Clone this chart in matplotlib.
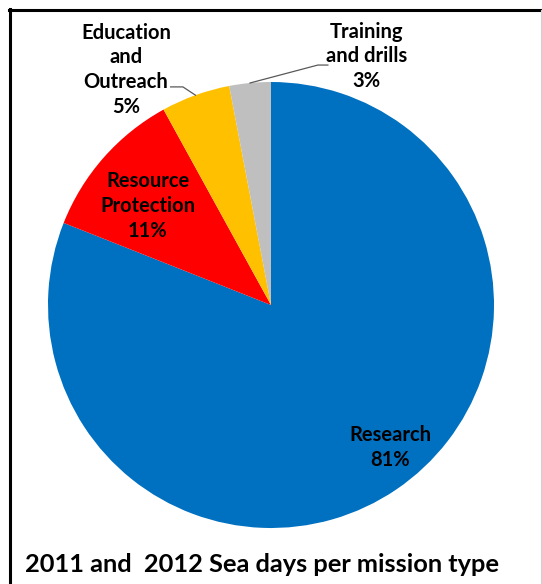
import numpy as np
import matplotlib
matplotlib.use("Agg")
import matplotlib.pyplot as plt
from matplotlib.lines import Line2D

categories = ["Research", "Resource\nProtection", "Education\nand\nOutreach", "Training\nand drills"]
values = [81, 11, 5, 3]
colors = ["#0070C0", "#FF0000", "#FFC000", "#BFBFBF"]
title = "2011 and  2012 Sea days per mission type"

W, H = 542, 584
fig = plt.figure(figsize=(W / 100, H / 100), dpi=100)
fig.patch.set_facecolor("white")

cx, cy, r = 271, 305, 223
ax = fig.add_axes([(cx - r) / W, (H - cy - r) / H, 2 * r / W, 2 * r / H])
ax.axis("off")

wedges, _ = ax.pie(values, colors=colors, startangle=90, counterclock=False,
                   radius=1, center=(0, 0), frame=False,
                   wedgeprops=dict(linewidth=0))
ax.set_xlim(-1, 1)
ax.set_ylim(-1, 1)
ax.set_aspect("auto")

font = dict(family=["Lato", "DejaVu Sans"], fontweight="bold", fontsize=14.5)
total = sum(values)
pct = [f"{v / total * 100:.0f}%" for v in values]

# label positions (axes data coords)
pos = [(0.534, -0.64), (-0.552, 0.445), (-0.65, 1.055), (0.43, 1.115)]
for (x, y), c, p in zip(pos, categories, pct):
    ax.text(x, y, f"{c}\n{p}", ha="center", va="center", linespacing=1.3,
            clip_on=False, **font)

# leader lines for small slices
for i, (elbow, end) in zip([2, 3], [((-0.395, 0.978), (-0.45, 0.978)),
                                    ((0.21, 1.076), (0.255, 1.076))]):
    w = wedges[i]
    mid = np.deg2rad((w.theta1 + w.theta2) / 2)
    px, py = np.cos(mid), np.sin(mid)
    ax.add_line(Line2D([px, elbow[0], end[0]], [py, elbow[1], end[1]],
                       color="#595959", lw=0.9, clip_on=False))

fig.text(262 / W, 1 - 564 / H, title, ha="center", va="center",
         family=["Lato", "DejaVu Sans"], fontweight="bold", fontsize=18.3)

# frame
fig.add_artist(Line2D([9 / W, 1], [1 - 9.5 / H] * 2, color="black", lw=2.2,
                      transform=fig.transFigure))
fig.add_artist(Line2D([9.5 / W] * 2, [0, 1 - 9 / H], color="black", lw=2.2,
                      transform=fig.transFigure))
fig.add_artist(Line2D([540.5 / W] * 2, [0, 1 - 10 / H], color="#d0d0d0", lw=0.8,
                      transform=fig.transFigure))

fig.savefig("out.png", dpi=100, facecolor="white")
